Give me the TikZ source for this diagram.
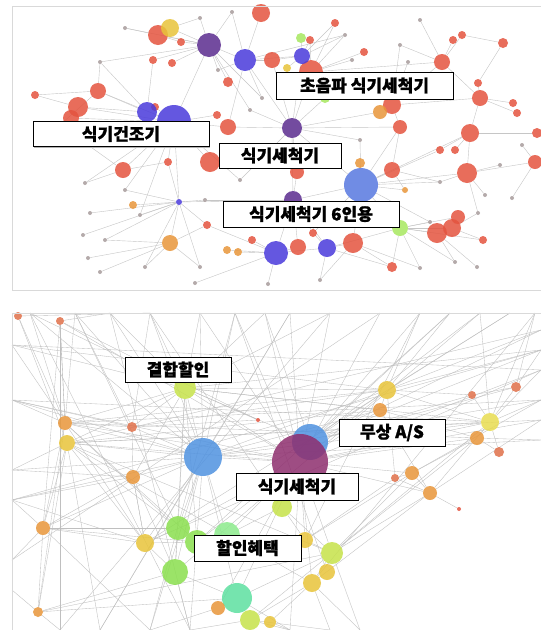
\documentclass[tikz,border=0pt]{standalone}
\usepackage{fontspec}
\newfontfamily\kr{Noto Sans CJK KR}[FakeBold=1.1]
\usetikzlibrary{backgrounds,shadows}
\definecolor{cRed}{HTML}{E4543F}
\definecolor{cPur}{HTML}{5B2C8F}
\definecolor{cInd}{HTML}{4A3ADB}
\definecolor{cLBlu}{HTML}{5878E0}
\definecolor{cYel}{HTML}{E8C43A}
\definecolor{cOra}{HTML}{E8963A}
\definecolor{cLGrn}{HTML}{A8E860}
\definecolor{cGry}{HTML}{A89C9C}
\definecolor{cBlu}{HTML}{4F92E0}
\definecolor{cMar}{HTML}{8E2E6E}
\definecolor{cYG}{HTML}{C6E24A}
\definecolor{cGrn}{HTML}{8ADF4E}
\definecolor{cLGn}{HTML}{8DEB8D}
\definecolor{cTeal}{HTML}{5EE0A0}
\definecolor{cRO}{HTML}{E0704A}
\definecolor{cYL}{HTML}{E8DC50}
\tikzset{
  dot/.style={circle, draw=none, inner sep=0pt, minimum size={2*#1pt}, fill opacity=0.85},
  edgeT/.style={gray!45, line width=0.4pt},
  edgeB/.style={gray!50, line width=0.35pt},
  frm/.style={gray!30, line width=0.8pt},
  lbl/.style={draw=black, fill=white, line width=0.9pt, inner sep=0pt,
              font=\kr\bfseries\fontsize{17}{17}\selectfont, minimum height=25pt,
              drop shadow={shadow xshift=1.3pt, shadow yshift=-1.3pt, fill=gray!60, opacity=1}}
}
\begin{document}
\begin{tikzpicture}[x=1pt, y=-1pt]
\useasboundingbox (0,0) rectangle (541,630);
\begin{pgfonlayer}{background}
\fill[white] (0,0) rectangle (541,630);
\end{pgfonlayer}
% upper network: hubs, coloured nodes, grey leaves
\foreach \n/\x/\y/\r/\c in {
  g1/100/62/2/cGry, g2/125/28/2/cGry, g5/60/125/2/cGry, g7/88/258/2/cGry, g8/125/190/2/cGry,
  g9/85/183/2/cGry, g10/90/213/2/cGry, g11/83/235/2/cGry, g12/105/240/2/cGry, g13/145/267/2/cGry,
  g14/200/267/2/cGry, g15/140/215/2/cGry, g16/205/200/2/cGry, g17/240/180/2/cGry, g18/250/110/2/cGry,
  g19/262/98/2/cGry, g20/218/70/2/cGry, g21/200/18/2/cGry, g22/232/12/2/cGry, g23/345/35/2/cGry,
  g24/352/60/2/cGry, g25/400/45/2/cGry, g26/408/62/2/cGry, g27/420/20/2/cGry, g28/360/140/2/cGry,
  g29/430/222/2/cGry, g30/478/213/2/cGry, g31/485/195/2/cGry, g32/500/165/2/cGry, g33/522/145/2/cGry,
  g34/477/267/2/cGry, g35/420/268/2/cGry, g36/320/280/2/cGry, g37/268/284/2/cGry, g38/195/283/2/cGry,
  g39/100/272/2/cGry, g40/440/182/2/cGry, g41/512/198/2/cGry, g42/455/262/2/cGry,
  r1/158/35/10/cRed, r2/261/13/9/cRed, r3/181/42/4/cRed, r4/272/60/8/cRed, r5/311/72/12/cRed,
  r6/98/91/8/cRed, r7/78/107/10/cRed, r8/71/118/8/cRed, r9/35/95/4/cRed, r10/123/170/8/cRed,
  r11/210/162/10/cRed, r12/155/107/4/cRed, r13/168/162/4/cRed, r14/207/225/4/cRed, r15/252/240/4/cRed,
  r16/153/60/4/cRed, r17/228/127/8/cRed, r18/335/23/4/cRed, r19/364/52/4/cRed, r20/442/62/8/cRed,
  r21/453/40/4/cRed, r22/462/35/4/cRed, r23/503/43/5/cRed, r24/478/83/4/cRed, r25/480/98/8/cRed,
  r26/513/103/4/cRed, r27/517/113/4/cRed, r28/470/133/9/cRed, r29/537/133/5/cRed, r30/400/127/7/cRed,
  r31/392/105/9/cRed, r33/535/162/7/cRed, r34/467/173/10/cRed, r35/392/170/8/cRed, r36/440/150/4/cRed,
  r37/455/150/4/cRed, r38/437/233/10/cRed, r39/452/228/9/cRed, r40/458/217/7/cRed, r41/483/240/4/cRed,
  r42/353/243/10/cRed, r43/298/247/8/cRed, r44/297/172/7/cRed, r45/313/233/4/cRed, r46/392/267/5/cRed,
  r47/228/82/5/cRed, r48/172/63/4/cRed, r49/217/115/4/cRed, r50/310/40/4/cRed,
  o1/380/112/7/cOra, o2/405/190/3/cOra, o3/360/163/5/cOra, o4/170/243/8/cOra, o5/133/205/4/cOra,
  o6/227/250/4/cOra, o7/238/252/4/cOra, y1/170/28/9/cYel, y2/287/68/4/cYel, n1/301/38/5/cLGrn,
  n2/325/98/5/cLGrn,
  t1/209/45/12/cPur, t2/245/60/11/cInd, t3/147/112/10/cInd, t4/174/122/17/cInd, t5/292/128/10/cPur,
  t6/361/185/17/cLBlu, t7/293/200/9/cPur, t8/276/253/12/cInd, t9/327/248/9/cInd, t10/400/228/8/cLGrn,
  t11/179/202/3/cInd, t12/302/56/8/cInd}
  \node[dot=\r, fill=\c] (\n) at (\x,\y) {};
\begin{pgfonlayer}{background}
\foreach \a/\b in {
  t1/g2, t1/g21, t1/g22, t1/g20, t1/r16, t1/r3, t1/g1, t1/g18, t1/t2, t1/r1, t1/g19, t1/r47, t1/r48, t1/y1,
  t2/r4, t2/g20, t2/g19, t2/t12, t2/g23, t2/r17, t2/t5, t2/r2, t2/g22,
  t4/t3, t4/r7, t4/r8, t4/g5, t4/g9, t4/g8, t4/r10, t4/r11, t4/r12, t4/t11, t4/r13, t4/g17, t4/t1,
  t4/g15, t4/r49, t4/r17, t4/r6, t3/r6, t3/g1, t3/r7, t3/r16,
  t5/t12, t5/r5, t5/r4, t5/g28, t5/r44, t5/t7, t5/g18, t5/r30, t5/t6, t5/o1, t5/g17, t5/r17, t5/n2,
  t6/r35, t6/o3, t6/r42, t6/t10, t6/g29, t6/g40, t6/r28, t6/r34, t6/g28, t6/t7, t6/r30, t6/r36, t6/o2, t6/r45,
  t7/r43, t7/t8, t7/t9, t7/r44, t7/g16, t7/t11, t7/r45,
  t8/r15, t8/o6, t8/o7, t8/g37, t8/g38, t8/r14, t8/t9, t8/r43,
  t9/r42, t9/g36, t9/t10, t9/r45, t9/r46,
  t10/r38, t10/r39, t10/g35, t10/g29, t10/r40, t10/r41, t10/g42, t10/r46,
  t11/o5, t11/r14, t11/g8, t11/g10, t11/g12, t11/g15, t11/g16, t11/o4, t11/g13, t11/g14, t11/r13, t11/g11,
  o4/g13, o4/g39, o4/g12, o4/g14, o4/r14, o4/g7,
  r10/g9, r10/g5, r10/r13, r6/g1, r6/g5, r6/r9, r7/r9, r1/r3, r1/g2, r1/y1, y1/g21,
  r20/r21, r20/r22, r20/r31, r20/r25, r20/r5, r20/g25, r20/g27, r23/r24, r23/r22,
  r25/r24, r25/r26, r25/r27, r25/r28, r25/r31, r28/r29, r28/r34, r28/r36, r28/r37,
  r34/g31, r34/g32, r34/r33, r34/g40, r34/g30, r33/g33, r33/g41,
  r38/g42, r38/g34, r38/r39, r39/r40, r39/g30, r39/r41, r35/o2, r35/g40, r35/r30,
  r31/o1, r31/r30, r31/g26, r31/g25, r5/g24, r5/g23, r5/r19, r5/r18, r5/r50,
  t12/n1, t12/r18, t12/g23, t12/r4, t12/y2, t12/r50, r42/g36, r42/r46, r42/g35}
  \draw[edgeT] (\a) -- (\b);
\end{pgfonlayer}
\draw[frm] (541,6) -- (12,6) -- (12,290) -- (541,290);
% lower network
\foreach \n/\x in {T1/30, T2/75, T3/110, T4/150, T5/200, T6/235, T7/265, T8/290, T9/330, T10/380,
  T11/420, T12/450, T13/480, T14/510, T15/535}
  \coordinate (\n) at (\x,313);
\foreach \n/\y in {L1/345, L2/400, L3/470, L4/500, L5/560, L6/590}
  \coordinate (\n) at (12,\y);
\foreach \n/\y in {R1/330, R2/350, R3/370, R4/400, R5/420, R6/440, R7/470}
  \coordinate (\n) at (541,\y);
\foreach \n/\x in {B1/60, B2/100, B3/150, B4/190, B5/290, B6/330, B7/360, B8/400}
  \coordinate (\n) at (\x,630);
\foreach \n/\x/\y/\r/\c in {
  b1/60/321/4/cRO, b2/18/316/4/cRO, b3/185/388/11/cYG, b4/65/423/7/cOra, b5/67/443/8/cYel,
  b6/132/427/5/cRO, b7/258/420/2/cRed, b8/203/457/19/cBlu, b9/387/390/9/cYel, b10/380/410/7/cOra,
  b11/472/395/4/cRO, b12/516/387/5/cRO, b13/490/422/9/cYL, b14/477/438/7/cOra, b15/499/452/5/cRO,
  b16/310/442/18/cBlu, b17/300/462/28/cMar, b18/133/477/7/cOra, b19/43/528/7/cOra, b20/145/543/9/cYel,
  b21/178/528/12/cGrn, b22/197/542/12/cGrn, b23/227/535/13/cLGn, b24/175/572/13/cGrn,
  b25/237/598/15/cTeal, b26/218/608/7/cOra, b27/38/612/5/cOra, b28/250/620/10/cYG, b29/395/478/4/cRO,
  b30/412/473/7/cOra, b31/430/493/7/cOra, b32/459/509/2/cRed, b33/305/540/8/cYel, b34/332/553/11/cYG,
  b35/327/572/8/cYel, b36/312/583/9/cYel, b37/282/507/10/cYG, b38/270/622/6/cYel}
  \node[dot=\r, fill=\c] (\n) at (\x,\y) {};
\begin{pgfonlayer}{background}
\foreach \a/\b in {
  b8/T1, b8/T2, b8/T3, b8/T4, b8/T5, b8/T6, b8/T8, b8/L2, b8/L3, b8/L4, b8/b3, b8/b4, b8/b5, b8/b6,
  b8/b18, b8/b21, b8/b23, b8/b17, b8/b9, b8/b10, b8/b13, b8/R4, b8/R6, b8/b24, b8/b25, b8/B2,
  b8/B3, b8/B4, b8/b20, b8/b19,
  b17/T5, b17/T6, b17/T7, b17/T8, b17/T9, b17/T10, b17/b3, b17/b9, b17/b10, b17/b14, b17/b13,
  b17/R3, b17/R5, b17/b30, b17/b31, b17/b34, b17/b33, b17/b37, b17/b36, b17/b25, b17/b26, b17/B5,
  b17/b21, b17/b22, b17/b23, b17/b4, b17/b5, b17/L2, b17/b1,
  b16/T11, b16/T12, b16/T13, b16/R1, b16/R2, b16/b9, b16/b11, b16/b12, b16/b3, b16/T7,
  b3/T1, b3/T3, b3/T4, b3/T5, b3/T7, b3/T9, b3/b4, b3/b5, b3/b6, b3/b7, b3/b18, b3/b21, b3/b22,
  b3/b24, b3/L1, b3/R2, b3/b9, b3/b10, b3/b13,
  b4/T1, b4/T2, b4/L1, b4/L2, b4/b1, b4/b19, b4/b27, b4/b6, b4/b20, b4/b21, b4/b9, b4/b14, b4/R4, b4/b22,
  b5/L3, b5/b19, b5/b27, b5/b20, b5/b21, b5/b10, b5/b13, b5/b34, b5/b36, b5/B2, b5/R5,
  b1/b4, b1/b19, b1/B1, b1/T3, b1/b7, b2/b4, b2/b5, b2/T4,
  b19/b27, b19/L4, b19/L5, b19/b20, b19/b22, b19/B3, b19/b21,
  b27/L6, b27/b24, b27/b25, b27/b34, b27/B1,
  b20/b21, b20/b22, b20/b24, b20/L4, b20/b18,
  b21/b22, b22/b23, b21/b24, b24/b25, b25/b26, b25/b28, b23/b37, b23/b33, b24/B4, b25/B5, b28/B6,
  b26/B3, b28/B5, b28/B4, b38/B5, b38/b36,
  b34/b33, b34/b35, b34/b36, b34/b37, b34/b31, b34/b30, b34/b14, b34/b13,
  b34/b25, b34/b28, b34/B7,
  b36/b35, b36/B6, b36/B7, b36/b31, b36/b28, b33/b37, b33/b30, b33/b29,
  b9/T11, b9/T12, b9/T14, b9/b10, b9/b13, b9/b11, b9/R1, b9/R2, b9/b29, b9/b6, b9/L1,
  b13/b11, b13/b12, b13/b14, b13/b15, b13/R3, b13/R4, b13/T15, b13/T13, b13/b31,
  b14/b30, b14/b10, b14/b15, b14/R6, b31/b32, b31/b30, b31/b29, b31/R5, b31/b10,
  b30/b29, b30/R4, b12/R2, b12/T15, b12/b11,
  b6/T2, b6/T4, b6/b18, b6/b7, b6/L2, b18/L3, b18/L4, b18/b20, b18/b24, b18/b19,
  T2/b21, T4/b37, T6/B3, T8/B2, T3/B4, L1/R3, L2/b13, T10/L5, T13/b24, T14/b20, R1/b5, R3/b20,
  T9/B1, T12/b22, T15/b36, R2/L4, T11/b33, T6/b35, T1/B4}
  \draw[edgeB] (\a) -- (\b);
\end{pgfonlayer}
\draw[frm] (541,313) -- (12,313) -- (12,630);
% label boxes
\node[lbl, minimum width=176pt] (dryer) at (121,134) {식기건조기};
\node[lbl, minimum width=177pt, minimum height=27pt] (ultra) at (364.5,85.5) {초음파 식기세척기};
\node[lbl, minimum width=122pt] (washT) at (280,155.5) {식기세척기};
\node[lbl, minimum width=176pt, minimum height=26pt] (wash6) at (311,214) {식기세척기 6인용};
\node[lbl, minimum width=106pt] (combo) at (178,369.5) {결합할인};
\node[lbl, minimum width=106pt, minimum height=27pt] (freeAS) at (392,432.5) {무상 A/S};
\node[lbl, minimum width=122pt, minimum height=27pt] (washB) at (297,486.5) {식기세척기};
\node[lbl, minimum width=107pt, minimum height=26pt] (benefit) at (247.5,548) {할인혜택};
\end{tikzpicture}
\end{document}
